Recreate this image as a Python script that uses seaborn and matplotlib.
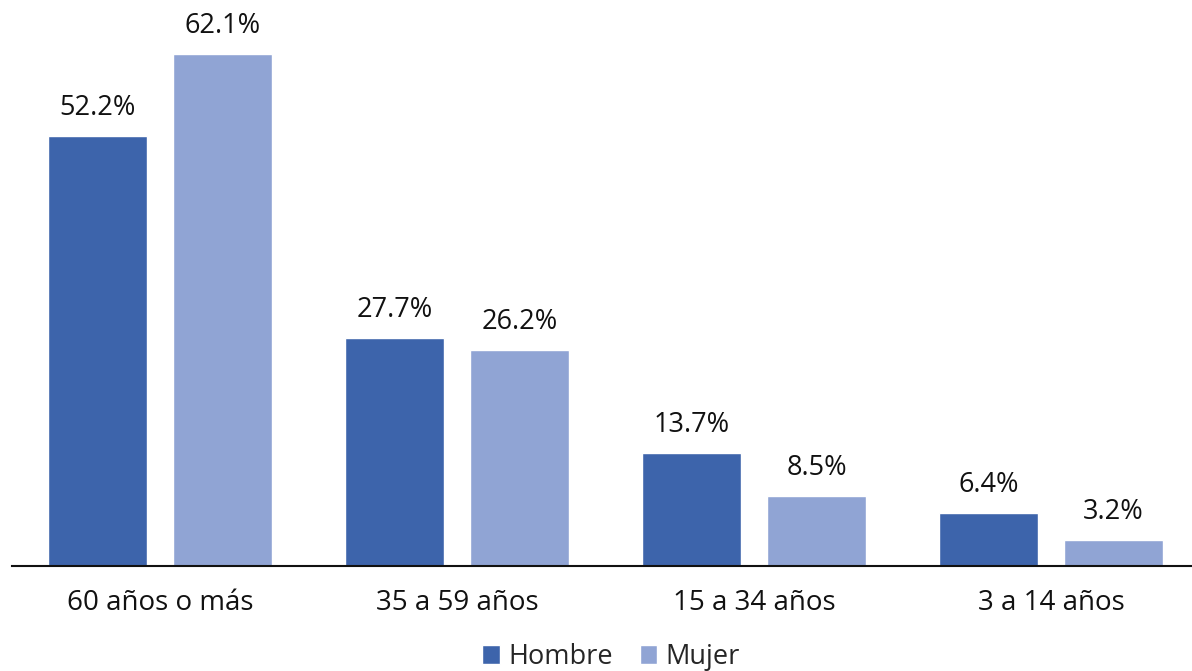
import pandas as pd
import matplotlib
matplotlib.use('Agg')
import matplotlib.pyplot as plt
import seaborn as sns
from matplotlib.patches import Patch

# Data
grupos = ['60 años o más', '35 a 59 años', '15 a 34 años', '3 a 14 años']
hombre = [52.2, 27.7, 13.7, 6.4]
mujer = [62.1, 26.2, 8.5, 3.2]
sexos = ['Hombre', 'Mujer']
colores = ['#3D64AB', '#90A4D4']

df = pd.DataFrame({
    'grupo': grupos * 2,
    'sexo': ['Hombre'] * len(grupos) + ['Mujer'] * len(grupos),
    'valor': hombre + mujer,
})

sns.set_style('white')
plt.rcParams['font.family'] = ['Open Sans', 'DejaVu Sans']

fig = plt.figure(figsize=(11.92, 6.71), dpi=100)
ax = fig.add_axes([11.5 / 1192, 105 / 671, 1188 / 1192, 566 / 671])

sns.barplot(data=df, x='grupo', y='valor', hue='sexo', order=grupos,
            hue_order=sexos, palette=colores, width=0.842, gap=0.21,
            saturation=1, ax=ax, legend=False)

for cont in ax.containers:
    ax.bar_label(cont, labels=[f'{v:.1f}%' for v in cont.datavalues],
                 padding=10, fontsize=19.5, color='#111111')

ax.set_xlim(-0.5, 3.5)
ax.set_ylim(0, 68.7)
ax.set_xlabel('')
ax.set_ylabel('')
ax.set_yticks([])
ax.tick_params(axis='x', length=0, pad=16.5, labelsize=20, labelcolor='#111111')
sns.despine(ax=ax, left=True)
ax.spines['bottom'].set_color('#111111')
ax.spines['bottom'].set_linewidth(1.5)
ax.patch.set_alpha(0)

handles = [Patch(facecolor=c, label=s) for c, s in zip(colores, sexos)]
fig.legend(handles=handles, loc='center', bbox_to_anchor=(611 / 1192, 14 / 671),
           ncol=2, frameon=False, fontsize=19.5, handlelength=0.65,
           handleheight=0.65, handletextpad=0.3, columnspacing=1.0,
           borderpad=0)

fig.savefig('out.png', dpi=100, facecolor='white')
